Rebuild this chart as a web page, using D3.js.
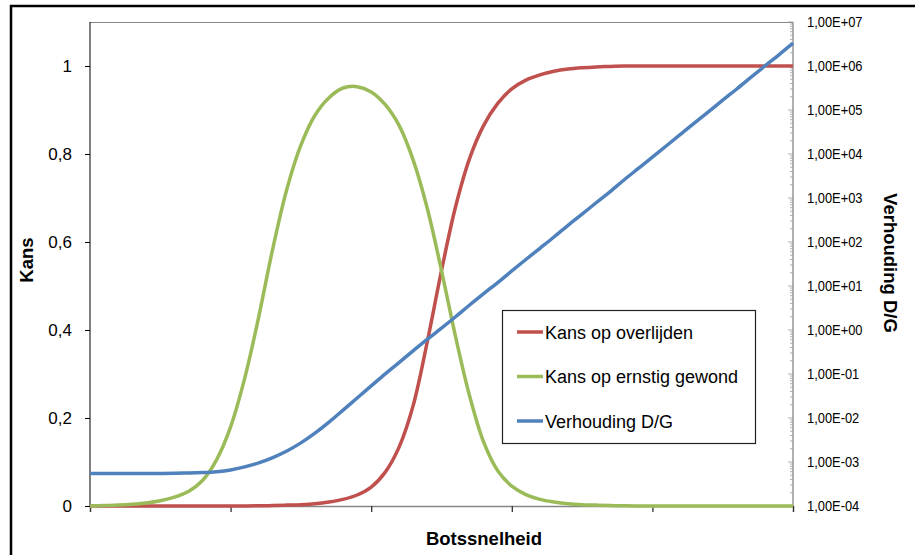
<!DOCTYPE html>
<html>
<head>
<meta charset="utf-8">
<script src="https://cdn.jsdelivr.net/npm/d3@7"></script>
<style>
  body { margin: 0; background: #fff; }
  text { font-family: Arial, "Liberation Sans", sans-serif; fill: #000; }
</style>
</head>
<body>
<svg></svg>
<script>
// Chart data. Speed is in relative units (0-100),
// the original x axis has no labels.
var speed = [0, 2, 4, 6, 8, 10, 12, 14, 16, 18, 20, 22, 24, 26, 28, 30, 32, 34, 36, 38,
             40, 42, 44, 46, 48, 50, 52, 54, 56, 58, 60, 62, 64, 66, 68, 70, 72, 74, 76, 78,
             80, 82, 84, 86, 88, 90, 92, 94, 96, 98, 100];

var kansOverlijden = [0, 0, 0, 0, 0, 0, 0, 0, 0, 0, 0, 0,
                      0.0005, 0.001, 0.002, 0.003, 0.005, 0.009, 0.015, 0.025, 0.043, 0.077,
                      0.135, 0.23, 0.375, 0.535, 0.68, 0.79, 0.865, 0.915, 0.948, 0.968,
                      0.98, 0.988, 0.993, 0.996, 0.998, 0.999,
                      1, 1, 1, 1, 1, 1, 1, 1, 1, 1, 1, 1, 1];

var kansGewond = [0, 0.001, 0.002, 0.004, 0.007, 0.012, 0.02, 0.033, 0.058, 0.105,
                  0.18, 0.29, 0.43, 0.585, 0.72, 0.82, 0.888, 0.928, 0.95, 0.953,
                  0.941, 0.912, 0.864, 0.785, 0.675, 0.535, 0.385, 0.25, 0.145, 0.08,
                  0.045, 0.026, 0.015, 0.009, 0.005, 0.003, 0.002, 0.001, 0.0005, 0,
                  0, 0, 0, 0, 0, 0, 0, 0, 0, 0, 0];

var verhoudingDG = [5.5e-4, 5.5e-4, 5.5e-4, 5.5e-4, 5.5e-4, 5.5e-4, 5.56e-4, 5.62e-4, 5.75e-4, 6.03e-4,
                    6.61e-4, 7.76e-4, 9.55e-4, 1.26e-3, 1.78e-3, 2.72e-3, 4.52e-3, 8.04e-3, 1.51e-2, 2.85e-2,
                    5.37e-2, 0.101, 0.184, 0.34, 0.62, 1.1, 2.0, 3.7, 6.7, 12,
                    22, 40, 72, 130, 240, 430, 780, 1400, 2600, 4700,
                    8500, 1.54e4, 2.8e4, 5.1e4, 9.2e4, 1.67e5, 3.0e5, 5.5e5, 1.0e6, 1.8e6,
                    3.3e6];

var seriesNames = ["Kans op overlijden", "Kans op ernstig gewond", "Verhouding D/G"];
var seriesColors = ["#C0504D", "#9BBB59", "#4F81BD"];

var kansTicks = [0, 0.2, 0.4, 0.6, 0.8, 1];
var kansTickLabels = ["0", "0,2", "0,4", "0,6", "0,8", "1"];
var ratioTicks = [1e-4, 1e-3, 1e-2, 1e-1, 1e0, 1e1, 1e2, 1e3, 1e4, 1e5, 1e6, 1e7];
var ratioTickLabels = ["1,00E-04", "1,00E-03", "1,00E-02", "1,00E-01", "1,00E+00", "1,00E+01",
                       "1,00E+02", "1,00E+03", "1,00E+04", "1,00E+05", "1,00E+06", "1,00E+07"];
var speedTicks = [0, 20, 40, 60, 80, 100];

var width = 915,
    height = 555;

var svg = d3.select("svg")
    .attr("width", width)
    .attr("height", height);

// outer frame (only top and left edges fall inside the picture)
svg.append("rect")
    .attr("x", 11).attr("y", 6)
    .attr("width", 930).attr("height", 580)
    .attr("fill", "none")
    .attr("stroke", "#000")
    .attr("stroke-width", 2.5);

var plotLeft = 90, plotRight = 793, plotTop = 22, plotBottom = 506;

var x = d3.scaleLinear().domain([0, 100]).range([plotLeft, plotRight]);
var yKans = d3.scaleLinear().domain([0, 1.1]).range([plotBottom, plotTop]);
var yRatio = d3.scaleLog().domain([1e-4, 1e7]).range([plotBottom, plotTop]);

var axisGrey = "#868686";

// top border of the plot area
svg.append("line")
    .attr("x1", plotLeft).attr("x2", plotRight)
    .attr("y1", plotTop + 0.5).attr("y2", plotTop + 0.5)
    .attr("stroke", axisGrey);

// bottom axis: tick marks only
var xAxis = svg.append("g")
    .attr("transform", "translate(0," + plotBottom + ")")
    .call(d3.axisBottom(x).tickValues(speedTicks).tickSize(6).tickFormat(""));
xAxis.selectAll("line, path").attr("stroke", axisGrey).attr("stroke-width", 1.3);
xAxis.selectAll(".tick line").attr("stroke", "#333");

// left axis
var kansAxis = svg.append("g")
    .attr("transform", "translate(" + plotLeft + ",0)")
    .call(d3.axisLeft(yKans).tickValues(kansTicks).tickSize(5).tickPadding(13)
      .tickFormat(function(d, i) { return kansTickLabels[i]; }));
kansAxis.select(".domain").attr("d", "M0," + plotTop + "V" + plotBottom).attr("stroke", "#000");
kansAxis.selectAll(".tick line").attr("stroke", "#000");
kansAxis.selectAll("text").style("font-size", "17px").attr("fill", "#000");

// right axis with log minor ticks on the inside
var ratioAxis = svg.append("g")
    .attr("transform", "translate(" + plotRight + ",0)")
    .call(d3.axisRight(yRatio).tickValues(ratioTicks).tickSize(0).tickPadding(14)
      .tickFormat(function(d, i) { return ratioTickLabels[i]; }));
ratioAxis.select(".domain").attr("d", "M0," + plotTop + "V" + plotBottom)
    .attr("stroke", axisGrey).attr("stroke-width", 1.3);
ratioAxis.selectAll(".tick text")
    .style("font-size", "15px")
    .attr("fill", "#000")
    .attr("transform", "scale(0.86,1)")
    .attr("x", 14 / 0.86);

var minor = [];
for (var e = -4; e < 7; e++) {
  for (var m = 1; m < 10; m++) minor.push(m * Math.pow(10, e));
}
minor.push(1e7);
ratioAxis.selectAll(".minor")
    .data(minor)
  .enter().append("line")
    .attr("class", "minor")
    .attr("x1", function(d, i) { return i % 9 === 0 ? -5 : -3; })
    .attr("x2", 0)
    .attr("y1", function(d) { return yRatio(d); })
    .attr("y2", function(d) { return yRatio(d); })
    .attr("stroke", "#999")
    .attr("stroke-width", 0.8);

// series
var lineKans = d3.line()
    .x(function(d) { return x(d[0]); })
    .y(function(d) { return yKans(d[1]); })
    .curve(d3.curveCatmullRom.alpha(0.5));

var lineRatio = d3.line()
    .x(function(d) { return x(d[0]); })
    .y(function(d) { return yRatio(d[1]); })
    .curve(d3.curveCatmullRom.alpha(0.5));

svg.append("path")
    .datum(d3.zip(speed, kansOverlijden))
    .attr("d", lineKans)
    .attr("fill", "none")
    .attr("stroke", seriesColors[0])
    .attr("stroke-width", 3.5);

svg.append("path")
    .datum(d3.zip(speed, kansGewond))
    .attr("d", lineKans)
    .attr("fill", "none")
    .attr("stroke", seriesColors[1])
    .attr("stroke-width", 3.5);

svg.append("path")
    .datum(d3.zip(speed, verhoudingDG))
    .attr("d", lineRatio)
    .attr("fill", "none")
    .attr("stroke", seriesColors[2])
    .attr("stroke-width", 3.5);

// axis titles
svg.append("text")
    .attr("transform", "translate(33,260) rotate(-90)")
    .attr("text-anchor", "middle")
    .style("font-size", "18.5px")
    .style("font-weight", "bold")
    .text("Kans");

svg.append("text")
    .attr("x", 484).attr("y", 545)
    .attr("text-anchor", "middle")
    .style("font-size", "18.5px")
    .style("font-weight", "bold")
    .text("Botssnelheid");

svg.append("text")
    .attr("transform", "translate(884,263) rotate(90)")
    .attr("text-anchor", "middle")
    .style("font-size", "18.5px")
    .style("font-weight", "bold")
    .text("Verhouding D/G");

// legend
var legend = svg.append("g");
legend.append("rect")
    .attr("x", 502.5).attr("y", 310.5)
    .attr("width", 253).attr("height", 133)
    .attr("fill", "#fff")
    .attr("stroke", "#222")
    .attr("stroke-width", 1.2);

var legendY = d3.scalePoint().domain(seriesNames).range([332, 421]);

var item = legend.selectAll(".item")
    .data(seriesNames)
  .enter().append("g")
    .attr("class", "item")
    .attr("transform", function(d) { return "translate(0," + legendY(d) + ")"; });

item.append("line")
    .attr("x1", 517).attr("x2", 543)
    .attr("stroke", function(d, i) { return seriesColors[i]; })
    .attr("stroke-width", 3.5);

item.append("text")
    .attr("x", 545).attr("y", 6.5)
    .style("font-size", "18px")
    .text(function(d) { return d; });
</script>
</body>
</html>
